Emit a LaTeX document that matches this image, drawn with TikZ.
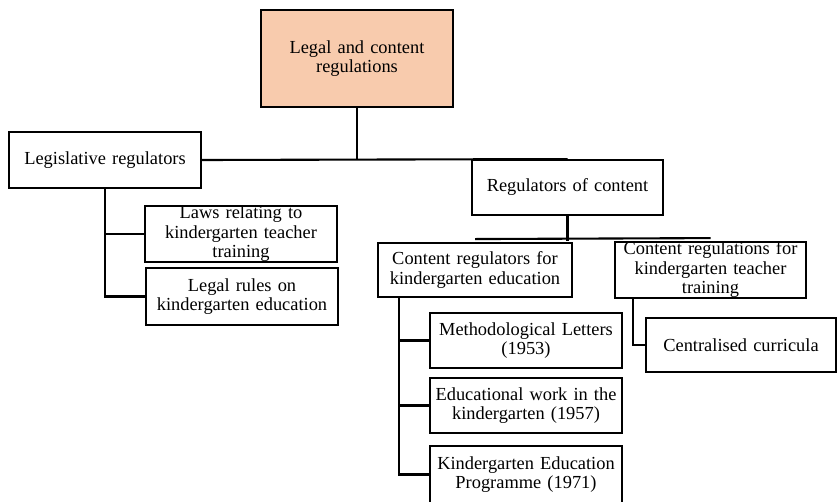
\documentclass[tikz,border=0pt]{standalone}
\usepackage{fontspec}
\setmainfont{Liberation Serif}
\usetikzlibrary{calc}
\begin{document}
\begin{tikzpicture}[x=1pt,y=-1pt,
  box/.style={draw=black,line width=1.9pt,fill=white,inner sep=0pt,align=center,
    font=\fontsize{18.4}{19.5}\selectfont},
  conn/.style={line width=2.1pt,draw=black}]
\useasboundingbox (0,0) rectangle (837,501);
\definecolor{peach}{HTML}{F8CBAD}
% nodes
\node[box,fill=peach,minimum width=192pt,minimum height=97pt,text width=185pt] (top) at (357,58.5) {Legal and content\\regulations};
\node[box,minimum width=192pt,minimum height=56pt,text width=185pt] (leg) at (105,160) {Legislative regulators};
\node[box,minimum width=192pt,minimum height=56pt,text width=185pt] (laws) at (241,234) {Laws relating to\\kindergarten teacher\\training};
\node[box,minimum width=192pt,minimum height=57pt,text width=185pt] (rules) at (242,296.5) {Legal rules on\\kindergarten education};
\node[box,minimum width=191pt,minimum height=55pt,text width=185pt] (roc) at (567.5,187.5) {Regulators of content};
\node[box,minimum width=194pt,minimum height=54pt,text width=190pt] (cre) at (475,270) {Content regulators for\\kindergarten education};
\node[box,minimum width=191pt,minimum height=54pt,text width=188pt] (crt) at (710.5,270) {Content regulations for\\kindergarten teacher\\training};
\node[box,minimum width=192pt,minimum height=55pt,text width=188pt] (meth) at (526,340.5) {Methodological Letters\\(1953)};
\node[box,minimum width=192pt,minimum height=55pt,text width=188pt] (edu) at (526,405.5) {Educational work in the\\kindergarten (1957)};
\node[box,minimum width=192pt,minimum height=57pt,text width=188pt] (kep) at (526,474.5) {Kindergarten Education\\Programme (1971)};
\node[box,minimum width=190pt,minimum height=54pt,text width=186pt] (cent) at (741,345) {Centralised curricula};
% connectors
\draw[conn] (top.south) -- (top.south |- leg.east);
\draw[conn] (leg.east) -- (roc.north);
\draw[conn] (leg.south) |- (laws.west);
\draw[conn] (leg.south) |- (rules.west);
\coordinate (j) at ($(roc.south)+(0,25)$);
\draw[conn] (roc.south) -- (roc.south |- j);
\draw[conn] ([yshift=3pt]cre.north) -- ([yshift=3pt]crt.north);
\draw[conn] ([xshift=22pt]cre.south west) |- (meth.west);
\draw[conn] ([xshift=22pt]cre.south west) |- (edu.west);
\draw[conn] ([xshift=22pt]cre.south west) |- (kep.west);
\draw[conn] ([xshift=19pt]crt.south west) |- (cent.west);
\end{tikzpicture}
\end{document}
